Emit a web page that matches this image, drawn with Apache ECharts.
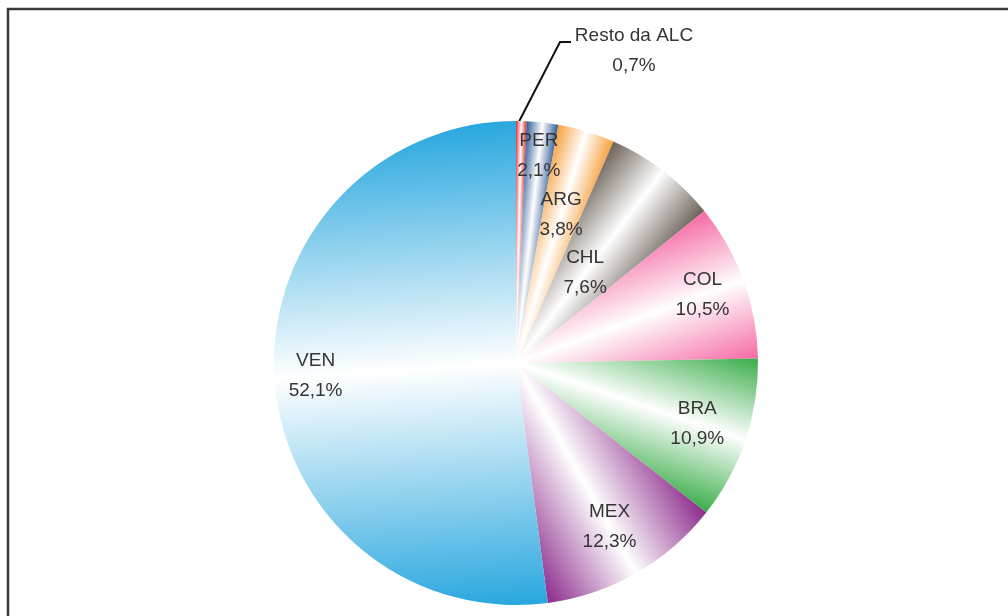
<!DOCTYPE html>
<html>
<head>
<meta charset="utf-8">
<script src="https://cdn.jsdelivr.net/npm/echarts@6/dist/echarts.min.js"></script>
<style>
  html, body { margin: 0; padding: 0; background: #fff; }
  #chart { width: 1008px; height: 616px; }
</style>
</head>
<body>
<div id="chart"></div>
<script>
// data, clockwise from 12 o'clock
const categories = ['Resto da ALC', 'PER', 'ARG', 'CHL', 'COL', 'BRA', 'MEX', 'VEN'];
const shares = [0.7, 2.1, 3.8, 7.6, 10.5, 10.9, 12.3, 52.1];

// style
const sliceColors = ['#e8262b', '#2d5a96', '#f7a03e', '#6b6058', '#f56aa4', '#39ad48', '#8b2a8b', '#29a7df'];
const labelRadius = [0, 0.86, 0.64, 0.47, 0.82, 0.79, 0.78, 0.83];
const CX = 516, CY = 363, R = 242;

const total = shares.reduce((a, b) => a + b, 0);
const starts = [];
let acc = 0;
shares.forEach(v => { starts.push(acc); acc += v; });
const midAngle = i => (starts[i] + shares[i] / 2) / total * 2 * Math.PI;

// each slice: colour at both edges, white along its middle radius
function sliceFill(i) {
  const phi = midAngle(i);
  const half = Math.min(shares[i] / total * Math.PI, Math.PI / 2);
  const w = R * Math.sin(half);
  const px = Math.cos(phi), py = Math.sin(phi);
  return new echarts.graphic.LinearGradient(
    CX - w * px, CY - w * py, CX + w * px, CY + w * py,
    [
      { offset: 0, color: sliceColors[i] },
      { offset: 0.5, color: '#ffffff' },
      { offset: 1, color: sliceColors[i] }
    ],
    true
  );
}

const fmt = p => p.name + '\n' + p.value.toFixed(1).replace('.', ',') + '%';

const chart = echarts.init(document.getElementById('chart'));
chart.setOption({
  animation: false,
  graphic: [{
    type: 'rect',
    silent: true,
    shape: { x: 8, y: 9, width: 1100, height: 700 },
    style: { fill: 'none', stroke: '#3a3a3a', lineWidth: 2.5 }
  }],
  series: [{
    type: 'pie',
    center: [CX, CY],
    radius: R,
    startAngle: 90,
    clockwise: true,
    silent: true,
    avoidLabelOverlap: false,
    itemStyle: { borderWidth: 0 },
    label: {
      position: 'inside',
      formatter: fmt,
      color: '#353535',
      fontFamily: 'Liberation Sans, Arial, sans-serif',
      fontSize: 19,
      lineHeight: 30
    },
    labelLine: { show: false },
    labelLayout: function (params) {
      const i = params.dataIndex;
      if (i === 0) {
        const phi = midAngle(0);
        return {
          x: 634, y: 51, align: 'center', verticalAlign: 'middle',
          labelLinePoints: [
            [CX + R * Math.sin(phi) - 2, CY - R * Math.cos(phi)],
            [560, 42],
            [571, 42]
          ]
        };
      }
      const phi = midAngle(i);
      const r = labelRadius[i] * R;
      return {
        x: CX + r * Math.sin(phi),
        y: CY - r * Math.cos(phi),
        align: 'center',
        verticalAlign: 'middle'
      };
    },
    data: categories.map((name, i) => {
      const d = { name: name, value: shares[i], itemStyle: { color: sliceFill(i) } };
      if (i === 0) {
        d.label = { position: 'outside' };
        d.labelLine = { show: true, lineStyle: { color: '#111', width: 2 } };
      }
      return d;
    })
  }]
});
</script>
</body>
</html>
